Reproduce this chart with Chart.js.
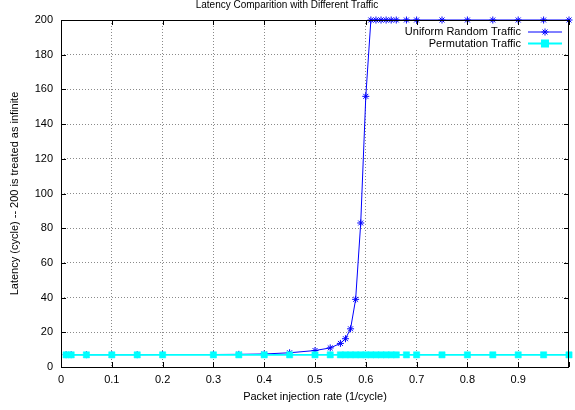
<!DOCTYPE html>
<html>
<head>
<meta charset="utf-8">
<script src="https://cdn.jsdelivr.net/npm/chart.js@4/dist/chart.umd.min.js"></script>
<style>
  body { margin: 0; background: #fff; }
  canvas { display: block; }
</style>
</head>
<body>
<canvas id="myChart" width="575" height="410"></canvas>
<script>
// Datos
const uniformRate = [0.01, 0.02, 0.05, 0.1, 0.15, 0.2, 0.3, 0.35, 0.4, 0.45, 0.5, 0.53, 0.55, 0.56, 0.57, 0.58, 0.59, 0.6,
    0.61, 0.62, 0.63, 0.64, 0.65, 0.66, 0.68, 0.7, 0.75, 0.8, 0.85, 0.9, 0.95, 1.0];
const uniformLatency = [7.1, 7.1, 7.1, 7.1, 7.1, 7.2, 7.2, 7.3, 7.5, 8.2, 9.5, 11, 13.6, 16.3, 22, 39, 83, 156,
    200, 200, 200, 200, 200, 200, 200, 200, 200, 200, 200, 200, 200, 200];

const permRate = [0.01, 0.02, 0.05, 0.1, 0.15, 0.2, 0.3, 0.35, 0.4, 0.45, 0.5, 0.53,
    0.55, 0.56, 0.57, 0.58, 0.59, 0.6, 0.61, 0.62, 0.63, 0.64, 0.65, 0.66,
    0.68, 0.7, 0.75, 0.8, 0.85, 0.9, 0.95, 1.0];
const permLatency = [7, 7, 7, 7, 7, 7, 7, 7, 7, 7, 7, 7,
    7, 7, 7, 7, 7, 7, 7, 7, 7, 7, 7, 7,
    7, 7, 7, 7, 7, 7, 7, 7];

const seriesNames = ['Uniform Random Traffic', 'Permutation Traffic'];
const xTicks = [0, 0.1, 0.2, 0.3, 0.4, 0.5, 0.6, 0.7, 0.8, 0.9, 1];
const yTicks = [0, 20, 40, 60, 80, 100, 120, 140, 160, 180, 200];

const FONT = '"Liberation Sans", Arial, Helvetica, sans-serif';
const ctx = document.getElementById('myChart').getContext('2d');

function puntos(xs, ys) {
    return xs.map((x, i) => ({ x: x, y: ys[i] }));
}

// caja blanca de la leyenda (tapa la rejilla como en gnuplot)
const fondoLeyenda = {
    id: 'fondoLeyenda',
    beforeDatasetsDraw(chart) {
        const c = chart.ctx;
        c.save();
        c.fillStyle = '#fff';
        c.fillRect(395, 24, 178, 26);
        c.restore();
    }
};

// borde, marcas interiores y leyenda
const marco = {
    id: 'marco',
    afterDraw(chart) {
        const c = chart.ctx;
        const a = chart.chartArea;
        const sx = chart.scales.x;
        const sy = chart.scales.y;
        c.save();
        c.strokeStyle = '#000';
        c.lineWidth = 1;
        c.beginPath();
        xTicks.forEach(v => {
            const px = Math.round(sx.getPixelForValue(v)) + 0.5;
            c.moveTo(px, a.bottom); c.lineTo(px, a.bottom - 5);
            c.moveTo(px, a.top); c.lineTo(px, a.top + 5);
        });
        yTicks.forEach(v => {
            const py = Math.round(sy.getPixelForValue(v)) + 0.5;
            c.moveTo(a.left, py); c.lineTo(a.left + 5, py);
            c.moveTo(a.right, py); c.lineTo(a.right - 5, py);
        });
        c.stroke();
        c.strokeRect(Math.round(a.left) + 0.5, Math.round(a.top) + 0.5,
            Math.round(a.right - a.left) - 1, Math.round(a.bottom - a.top));

        // leyenda
        c.font = '11px ' + FONT;
        c.textAlign = 'right';
        c.textBaseline = 'middle';
        c.fillStyle = '#000';
        chart.data.datasets.forEach((ds, i) => {
            const y = 32 + i * 11.5;
            c.fillText(seriesNames[i], 521, y);
            c.strokeStyle = ds.borderColor;
            c.lineWidth = ds.borderWidth;
            c.beginPath();
            c.moveTo(528, y); c.lineTo(562, y);
            c.stroke();
            c.fillStyle = ds.borderColor;
            Chart.helpers.drawPoint(c, {
                pointStyle: ds.pointStyle, radius: ds.pointRadius, rotation: 0, borderWidth: 1
            }, 545, y);
            c.fillStyle = '#000';
        });
        c.restore();
    }
};

const gridColor = (context) => {
    const v = context.tick ? context.tick.value : null;
    return (v === 0 || v === 1 || v === 200) ? 'rgba(0,0,0,0)' : '#8a8a8a';
};

const myChart = new Chart(ctx, {
    type: 'line',
    data: {
        datasets: [{
            label: seriesNames[0],
            data: puntos(uniformRate, uniformLatency),
            borderColor: '#0000ff',
            backgroundColor: '#0000ff',
            borderWidth: 1,
            pointStyle: 'star',
            pointRadius: 3.5,
            pointBorderWidth: 1,
            tension: 0,
            clip: false,
            order: 1
        }, {
            label: seriesNames[1],
            data: puntos(permRate, permLatency),
            borderColor: '#00ffff',
            backgroundColor: '#00ffff',
            borderWidth: 1.8,
            pointStyle: 'rect',
            pointRadius: 4.4,
            pointBorderWidth: 0.5,
            tension: 0,
            clip: false,
            order: 0
        }]
    },
    options: {
        responsive: false,
        animation: false,
        events: [],
        layout: { padding: { left: 0, right: 1, top: 0, bottom: 0 } },
        plugins: {
            legend: { display: false },
            tooltip: { enabled: false },
            title: {
                display: true,
                text: 'Latency Comparition with Different Traffic',
                color: '#000',
                font: { family: FONT, size: 10, weight: 'normal', lineHeight: 1 },
                padding: { top: 0, bottom: 10 }
            }
        },
        scales: {
            x: {
                type: 'linear',
                min: 0,
                max: 1,
                afterFit: (scale) => { scale.height = 43; },
                afterBuildTicks: (scale) => { scale.ticks = xTicks.map(v => ({ value: v })); },
                ticks: {
                    autoSkip: false,
                    maxRotation: 0,
                    padding: 6,
                    color: '#000',
                    font: { family: FONT, size: 11 },
                    callback: (v) => v === 1 ? '' : (v === 0 ? '0' : v.toFixed(1))
                },
                grid: { drawTicks: false, color: gridColor, lineWidth: 1 },
                border: { display: false, dash: [1, 2] },
                title: {
                    display: true,
                    text: 'Packet injection rate (1/cycle)',
                    color: '#000',
                    font: { family: FONT, size: 11 },
                    padding: { top: 0, bottom: 6 }
                }
            },
            y: {
                min: 0,
                max: 200,
                afterFit: (scale) => { scale.width = 61; },
                afterBuildTicks: (scale) => { scale.ticks = yTicks.map(v => ({ value: v })); },
                ticks: {
                    autoSkip: false,
                    padding: 8,
                    color: '#000',
                    font: { family: FONT, size: 11 }
                },
                grid: { drawTicks: false, color: gridColor, lineWidth: 1 },
                border: { display: false, dash: [1, 2] },
                title: {
                    display: true,
                    text: 'Latency (cycle) -- 200 is treated as infinite',
                    color: '#000',
                    font: { family: FONT, size: 11 },
                    padding: { top: 8, bottom: 0 }
                }
            }
        }
    },
    plugins: [fondoLeyenda, marco]
});
</script>
</body>
</html>
